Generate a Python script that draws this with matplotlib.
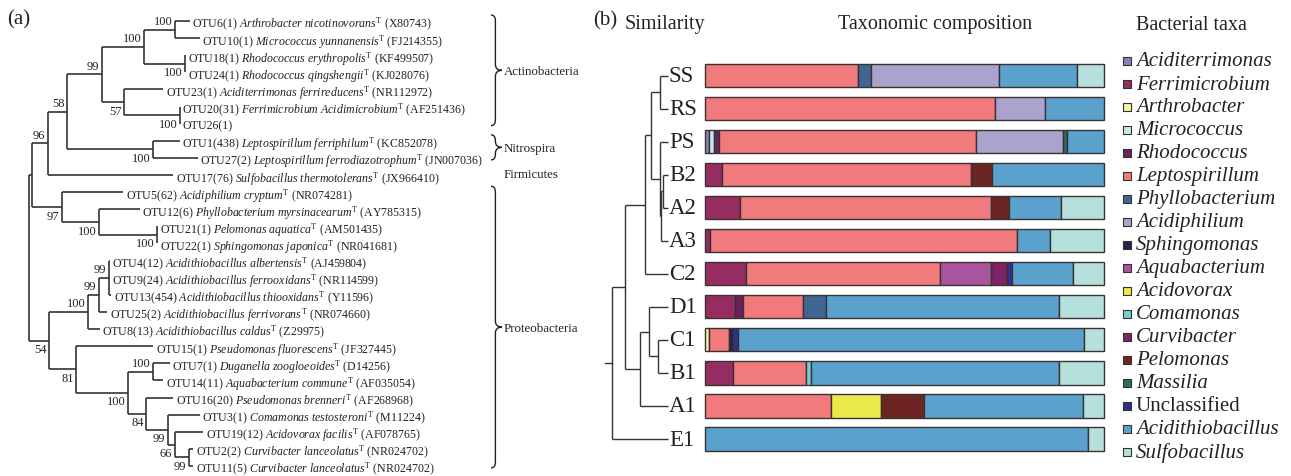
import re
import matplotlib
matplotlib.use("Agg")
import matplotlib.pyplot as plt
from matplotlib.path import Path
from matplotlib.patches import PathPatch

plt.rcParams["font.family"] = "Liberation Serif"
plt.rcParams["mathtext.fontset"] = "custom"
plt.rcParams["mathtext.rm"] = "Liberation Serif"
plt.rcParams["mathtext.it"] = "Liberation Serif:italic"
plt.rcParams["mathtext.bf"] = "Liberation Serif:bold"

INK = "#222222"

# ---- (a) 16S rRNA tree: branch lengths (drawing units) and bootstrap supports
tree_newick = (
    "(((((((OTU6:15,OTU10:25)100:31,(OTU18:0,OTU24:0)100:41)100:42,"
    "(OTU23:39,(OTU20:0,OTU26:0)100:56)57:22)99:35,(OTU1:27,OTU27:45)100:86)58:19,"
    "OTU17:125)96:16,(OTU5:61,(OTU12:41,(OTU21:0,OTU22:0)100:58)100:37)97:30):3,"
    "((((OTU4:0.5,OTU9:1,OTU13:2)99:10,OTU25:8)99:11,OTU8:12)100:39,"
    "(OTU15:77,((OTU7:17,OTU14:10)100:25,(OTU16:27,(OTU3:32,(OTU19:28,"
    "(OTU2:4,OTU11:4)99:14)66:7)99:22)84:18)100:52)81:27)54:20);"
)

otu_labels = ["OTU6(1)", "OTU10(1)", "OTU18(1)", "OTU24(1)", "OTU23(1)", "OTU20(31)",
              "OTU26(1)", "OTU1(438)", "OTU27(2)", "OTU17(76)", "OTU5(62)", "OTU12(6)",
              "OTU21(1)", "OTU22(1)", "OTU4(12)", "OTU9(24)", "OTU13(454)", "OTU25(2)",
              "OTU8(13)", "OTU15(1)", "OTU7(1)", "OTU14(11)", "OTU16(20)", "OTU3(1)",
              "OTU19(12)", "OTU2(2)", "OTU11(5)"]
otu_species = ["Arthrobacter nicotinovorans", "Micrococcus yunnanensis",
               "Rhodococcus erythropolis", "Rhodococcus qingshengii",
               "Aciditerrimonas ferrireducens", "Ferrimicrobium Acidimicrobium", "",
               "Leptospirillum ferriphilum", "Leptospirillum ferrodiazotrophum",
               "Sulfobacillus thermotolerans", "Acidiphilium cryptum",
               "Phyllobacterium myrsinacearum", "Pelomonas aquatica",
               "Sphingomonas japonica", "Acidithiobacillus albertensis",
               "Acidithiobacillus ferrooxidans", "Acidithiobacillus thiooxidans",
               "Acidithiobacillus ferrivorans", "Acidithiobacillus caldus",
               "Pseudomonas fluorescens", "Duganella zoogloeoides", "Aquabacterium commune",
               "Pseudomonas brenneri", "Comamonas testosteroni", "Acidovorax facilis",
               "Curvibacter lanceolatus", "Curvibacter lanceolatus"]
otu_accession = ["X80743", "FJ214355", "KF499507", "KJ028076", "NR112972", "AF251436", "",
                 "KC852078", "JN007036", "JX966410", "NR074281", "AY785315", "AM501435",
                 "NR041681", "AJ459804", "NR114599", "Y11596", "NR074660", "Z29975",
                 "JF327445", "D14256", "AF035054", "AF268968", "M11224", "AF078765",
                 "NR024702", "NR024702"]

# phylum brackets: (name, first leaf, last leaf); single-leaf groups get no brace
phyla = [("Actinobacteria", 0, 6), ("Nitrospira", 7, 8), ("Firmicutes", 9, 9),
         ("Proteobacteria", 10, 26)]

# ---- (b) UPGMA clustering of samples
cluster_newick = ("(((((SS:8,RS:8):9,(PS:8,((B2:5,A2:5):2,A3:7):1):9):6,C2:23):20,"
                  "((D1:19,(C1:10,B1:10):9):9,A1:28):15):13,E1:56);")

samples = ["SS", "RS", "PS", "B2", "A2", "A3", "C2", "D1", "C1", "B1", "A1", "E1"]

taxa = ["Aciditerrimonas", "Ferrimicrobium", "Arthrobacter", "Micrococcus", "Rhodococcus",
        "Leptospirillum", "Phyllobacterium", "Acidiphilium", "Sphingomonas", "Aquabacterium",
        "Acidovorax", "Comamonas", "Curvibacter", "Pelomonas", "Massilia", "Unclassified",
        "Acidithiobacillus", "Sulfobacillus"]
taxa_colors = ["#8a80c4", "#952d62", "#f6f2a8", "#c4ece6", "#6a2358", "#f07a7c", "#3f6592",
               "#aba3cc", "#2d1f4d", "#a9559d", "#ebe84c", "#72d0d2", "#7d2366", "#6c2522",
               "#2e6c66", "#2e3190", "#5ba1cd", "#b6e0dc"]

# relative abundance (%) per taxon, in sample order SS ... E1
abundance = {
    "Aciditerrimonas":   [0, 0, 1.1, 0, 0, 0, 0, 0, 0, 0, 0, 0],
    "Ferrimicrobium":    [0, 0, 0, 4.3, 8.8, 1.2, 10.4, 7.5, 0, 6.9, 0, 0],
    "Arthrobacter":      [0, 0, 0, 0, 0, 0, 0, 0, 1.1, 0, 0, 0],
    "Micrococcus":       [0, 0, 1.2, 0, 0, 0, 0, 0, 0, 0, 0, 0],
    "Rhodococcus":       [0, 0, 1.3, 0, 0, 0, 0, 2.1, 0, 0, 0, 0],
    "Leptospirillum":    [38.3, 72.7, 64.3, 62.4, 62.9, 77.0, 48.4, 15.0, 5.0, 18.4, 31.6, 0],
    "Phyllobacterium":   [3.3, 0, 0, 0, 0, 0, 0, 5.7, 0, 0, 0, 0],
    "Acidiphilium":      [32.1, 12.5, 21.7, 0, 0, 0, 0, 0, 0, 0, 0, 0],
    "Sphingomonas":      [0, 0, 0, 0, 0, 0, 0, 0, 1.0, 0, 0, 0],
    "Aquabacterium":     [0, 0, 0, 0, 0, 0, 12.9, 0, 0, 0, 0, 0],
    "Acidovorax":        [0, 0, 0, 0, 0, 0, 0, 0, 0, 0, 12.5, 0],
    "Comamonas":         [0, 0, 0, 0, 0, 0, 0, 0, 0, 1.25, 0, 0],
    "Curvibacter":       [0, 0, 0, 0, 0, 0, 3.9, 0, 0, 0, 0, 0],
    "Pelomonas":         [0, 0, 0, 5.3, 4.4, 0, 0, 0, 0, 0, 10.9, 0],
    "Massilia":          [0, 0, 1.25, 0, 0, 0, 0, 0, 0, 0, 0, 0],
    "Unclassified":      [0, 0, 0, 0, 0, 0, 1.35, 0, 1.1, 0, 0, 0],
    "Acidithiobacillus": [19.5, 14.8, 9.1, 28.0, 13.1, 8.3, 15.4, 58.5, 86.9, 62.1, 39.7, 96.1],
    "Sulfobacillus":     [6.8, 0, 0, 0, 10.8, 13.5, 7.65, 11.2, 4.9, 11.4, 5.3, 3.9],
}


def parse_newick(s):
    s = s.strip().rstrip(";")
    pos = 0

    def node():
        nonlocal pos
        kids = []
        if s[pos] == "(":
            pos += 1
            while True:
                kids.append(node())
                if s[pos] == ",":
                    pos += 1
                    continue
                pos += 1
                break
        m = re.match(r"([^:,()]*)(?::([\d.]+))?", s[pos:])
        pos += m.end()
        return {"name": m.group(1), "len": float(m.group(2) or 0), "kids": kids}

    return node()


def layout(n, x0, leaf_ys, leaves):
    n["x"] = x0 + n["len"]
    if not n["kids"]:
        n["y"] = leaf_ys[len(leaves)]
        leaves.append(n)
    else:
        for k in n["kids"]:
            layout(k, n["x"], leaf_ys, leaves)
        n["y"] = (n["kids"][0]["y"] + n["kids"][-1]["y"]) / 2
    return leaves


def draw_clades(ax, n, lw, color, support=False, fs=9):
    if not n["kids"]:
        return
    ax.plot([n["x"], n["x"]], [n["kids"][0]["y"], n["kids"][-1]["y"]],
            color=color, lw=lw, solid_capstyle="butt")
    for i, k in enumerate(n["kids"]):
        ax.plot([n["x"], k["x"]], [k["y"], k["y"]], color=color, lw=lw,
                solid_capstyle="butt")
        if support and k["kids"] and k["name"]:
            above = i == 0
            ax.text(k["x"] - 2.5, k["y"] + (-8.5 if above else 8.5), k["name"],
                    ha="right", va="center", fontsize=fs, color=INK)
        draw_clades(ax, k, lw, color, support, fs)


def brace(ax, x0, y0, y1, w=11, r=6):
    xm, ym = x0 + 0.4 * w, (y0 + y1) / 2
    verts = [(x0, y0), (xm, y0), (xm, y0 + r), (xm, ym - r), (xm, ym), (x0 + w, ym),
             (xm, ym), (xm, ym + r), (xm, y1 - r), (xm, y1), (x0, y1)]
    codes = [Path.MOVETO, Path.CURVE3, Path.CURVE3, Path.LINETO, Path.CURVE3, Path.CURVE3,
             Path.CURVE3, Path.CURVE3, Path.LINETO, Path.CURVE3, Path.CURVE3]
    ax.add_patch(PathPatch(Path(verts, codes), fill=False, lw=1.0, ec=INK))
    return ym


W, H = 1291, 477
fig = plt.figure(figsize=(W / 100, H / 100), dpi=100)
canvas = fig.add_axes([0, 0, 1, 1])
canvas.set_xlim(0, W)
canvas.set_ylim(H, 0)
canvas.axis("off")

# ---- panel (a)
tree_row0, tree_step = 22, 17.115
tree = parse_newick(tree_newick)
tree_leaves = layout(tree, 29, [tree_row0 + tree_step * i for i in range(len(otu_labels))], [])
draw_clades(canvas, tree, 1.2, "#333333", support=True)

for leaf, otu, sp, acc in zip(tree_leaves, otu_labels, otu_species, otu_accession):
    if sp:
        sp_tex = sp.replace(" ", r"\ ")
        label = otu + " $\\mathit{" + sp_tex + "}^{\\mathrm{T}}$ (" + acc + ")"
    else:
        label = otu
    canvas.text(leaf["x"] + 2.5, leaf["y"], label, ha="left", va="center_baseline",
                fontsize=8.6, color=INK)

for name, first, last in phyla:
    y0 = tree_leaves[first]["y"] - 6
    y1 = tree_leaves[last]["y"] + 2
    ym = (y0 + y1) / 2
    if last > first:
        ym = brace(canvas, 491, y0, y1)
    canvas.text(504, ym + 1, name, ha="left", va="center", fontsize=9.3, color=INK)

canvas.text(7, 20, "(a)", ha="left", va="center", fontsize=15, color=INK)

# ---- panel (b): dendrogram
bar_row0, bar_step = 76.5, 33.05
cluster = parse_newick(cluster_newick)
clu_leaves = layout(cluster, 612, [bar_row0 + bar_step * i for i in range(len(samples))], [])
draw_clades(canvas, cluster, 1.0, "#333333")
canvas.plot([605, cluster["x"]], [cluster["y"], cluster["y"]], color="#333333", lw=1.0)
for leaf in clu_leaves:
    canvas.text(leaf["x"] + 1, leaf["y"], leaf["name"], ha="left", va="center",
                fontsize=16.5, color=INK)

canvas.text(593, 21, "(b)", ha="left", va="center", fontsize=15, color=INK)
canvas.text(625, 25, "Similarity", ha="left", va="center", fontsize=14.5, color=INK)
canvas.text(935, 25, "Taxonomic composition", ha="center", va="center", fontsize=14.5,
            color=INK)
canvas.text(1136, 25, "Bacterial taxa", ha="left", va="center", fontsize=14.5, color=INK)

# ---- stacked composition bars
ax_bar = fig.add_axes([705 / W, 0, 399 / W, 1])
ax_bar.set_xlim(0, 100)
ax_bar.set_ylim((H - bar_row0) / bar_step, -bar_row0 / bar_step)
ax_bar.axis("off")
rows = list(range(len(samples)))
left = [0.0] * len(samples)
for taxon, color in zip(taxa, taxa_colors):
    vals = abundance[taxon]
    for r, v in zip(rows, vals):
        if v > 0:
            ax_bar.barh(r, v, left=left[r], height=0.70, color=color, edgecolor="#3a3232",
                        linewidth=1.0, clip_on=False)
            left[r] += v

# ---- legend
for k, (taxon, color) in enumerate(zip(taxa, taxa_colors)):
    y = 62 + 23 * k
    canvas.scatter([1127], [y], s=34, marker="s", color=color, edgecolors="#333333",
                   linewidths=0.8, zorder=3)
    canvas.text(1136, y, taxon, ha="left", va="center", fontsize=15, color=INK,
                fontstyle="normal" if taxon == "Unclassified" else "italic")

fig.savefig("out.png", dpi=100)
